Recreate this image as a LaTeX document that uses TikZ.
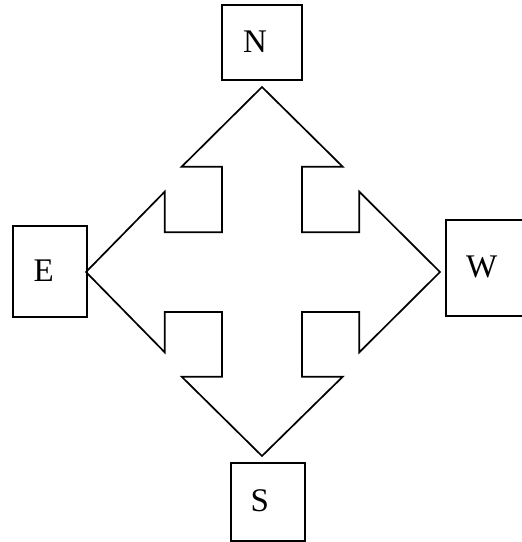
\documentclass[tikz,border=0pt]{standalone}
\usepackage{fontspec}
\setmainfont{Liberation Serif}
\begin{document}
\begin{tikzpicture}[x=1pt,y=-1pt,
  line width=1.7pt, line join=miter,
  dirlabel/.style={anchor=base, inner sep=0pt, font=\fontsize{33}{38}\selectfont}]
\useasboundingbox (0,0) rectangle (522,542);
% four-way arrow
\draw (262,87) -- (342.7,166.7) -- (302,166.7) -- (302,232.3) -- (359.3,232.3)
  -- (359.3,191.7) -- (440,272) -- (359.3,352.3) -- (359.3,312) -- (302,312)
  -- (302,376.7) -- (342.7,376.7) -- (262,456) -- (181.7,376.7) -- (222,376.7)
  -- (222,312) -- (164.7,312) -- (164.7,352.3) -- (86,272) -- (164.7,191.7)
  -- (164.7,232.3) -- (222,232.3) -- (222,166.7) -- (181.7,166.7) -- cycle;
% boxes
\draw (222.3,5) rectangle (301.7,80.3);
\draw (12.7,225.7) rectangle (86.7,317.3);
\draw (230.7,462.7) rectangle (304.7,540.7);
\draw (446,220) rectangle (526,315.7);
% labels
\node[dirlabel] (n) at (255,52.3) {N};
\node[dirlabel] (e) at (43.8,281) {E};
\node[dirlabel] (s) at (259.8,511.5) {S};
\node[dirlabel] (w) at (481.7,277.3) {W};
\end{tikzpicture}
\end{document}
